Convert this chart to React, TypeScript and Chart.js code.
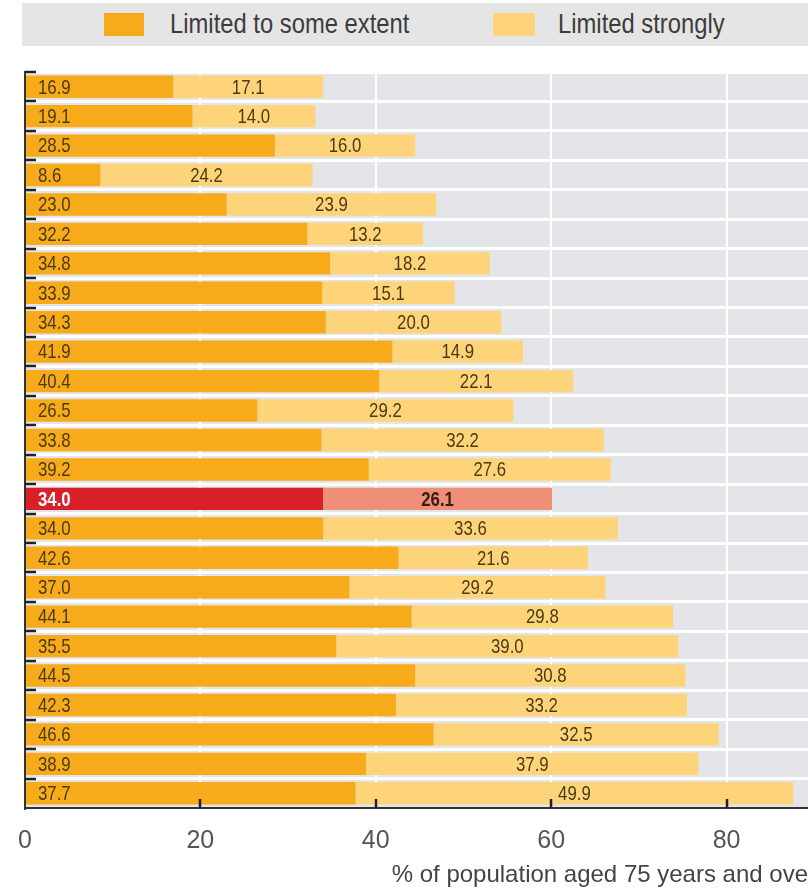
import React, { useEffect, useRef } from 'react';
import { Chart, registerables } from 'chart.js';

Chart.register(...registerables);

// ---- data ----
const categories = ['1', '2', '3', '4', '5', '6', '7', '8', '9', '10', '11', '12', '13', '14', '15', '16', '17', '18', '19', '20', '21', '22', '23', '24', '25'];
const limitedSomeExtent = [16.9, 19.1, 28.5, 8.6, 23.0, 32.2, 34.8, 33.9, 34.3, 41.9, 40.4, 26.5, 33.8, 39.2, 34.0, 34.0, 42.6, 37.0, 44.1, 35.5, 44.5, 42.3, 46.6, 38.9, 37.7];
const limitedStrongly = [17.1, 14.0, 16.0, 24.2, 23.9, 13.2, 18.2, 15.1, 20.0, 14.9, 22.1, 29.2, 32.2, 27.6, 26.1, 33.6, 21.6, 29.2, 29.8, 39.0, 30.8, 33.2, 32.5, 37.9, 49.9];
const seriesNames = ['Limited to some extent', 'Limited strongly'];
const highlightIndex = 14;
const xTickValues = [0, 20, 40, 60, 80];
const xMin = 0;
const xMax = 90.2;
const axisTitle = '% of population aged 75 years and over';

// ---- styles ----
const ORANGE = '#f7aa1a';
const LIGHT = '#fdd47a';
const RED = '#d91f27';
const SALMON = '#f08f78';
const PLOT_BG = '#e3e5e8';
const REGULAR = "'Liberation Sans', Arial, sans-serif";
const LABEL_SQUEEZE = 0.8;

const plotBg = {
  id: 'plotBg',
  beforeDraw(chart: any) {
    const { ctx, chartArea } = chart;
    ctx.save();
    ctx.fillStyle = PLOT_BG;
    ctx.fillRect(chartArea.left, chartArea.top, chartArea.right - chartArea.left, chartArea.bottom - chartArea.top);
    ctx.restore();
  },
};

const innerTicks = {
  id: 'innerTicks',
  afterDraw(chart: any) {
    const { ctx, chartArea } = chart;
    const ys = chart.scales.y;
    const xs = chart.scales.x;
    const n = categories.length;
    const rowH = (chartArea.bottom - chartArea.top) / n;
    ctx.save();
    ctx.strokeStyle = '#222';
    ctx.lineWidth = 2.5;
    for (let i = 0; i < n; i++) {
      const y = Math.round(ys.getPixelForValue(i) - rowH / 2);
      ctx.beginPath();
      ctx.moveTo(chartArea.left, y);
      ctx.lineTo(chartArea.left + 11, y);
      ctx.stroke();
    }
    for (const v of xTickValues) {
      if (v === 0) continue;
      const x = Math.round(xs.getPixelForValue(v));
      ctx.beginPath();
      ctx.moveTo(x, chartArea.bottom);
      ctx.lineTo(x, chartArea.bottom - 9);
      ctx.stroke();
    }
    ctx.restore();
  },
};

const valueLabels = {
  id: 'valueLabels',
  afterDatasetsDraw(chart: any) {
    const { ctx } = chart;
    chart.data.datasets.forEach((ds: any, di: number) => {
      const meta = chart.getDatasetMeta(di);
      meta.data.forEach((el: any, i: number) => {
        const hl = i === highlightIndex;
        const txt = Number(ds.data[i]).toFixed(1);
        ctx.save();
        ctx.textBaseline = 'middle';
        ctx.font = `${hl ? 'bold ' : ''}21px ${REGULAR}`;
        let x: number;
        if (di === 0) {
          ctx.textAlign = 'left';
          ctx.fillStyle = hl ? '#ffffff' : '#4a3a12';
          x = el.base + 12;
        } else {
          ctx.textAlign = 'center';
          ctx.fillStyle = hl ? '#3a1a10' : '#4a3a12';
          x = (el.x + el.base) / 2;
        }
        ctx.translate(x, el.y + 1);
        ctx.scale(LABEL_SQUEEZE, 1);
        ctx.fillText(txt, 0, 0);
        ctx.restore();
      });
    });
  },
};

export default function App() {
  const canvasRef = useRef<HTMLCanvasElement | null>(null);

  useEffect(() => {
    document.body.style.margin = '0';
    const canvas = canvasRef.current;
    if (!canvas) return;
    const chart = new Chart(canvas, {
      type: 'bar',
      data: {
        labels: categories,
        datasets: [
          {
            label: seriesNames[0],
            data: limitedSomeExtent,
            backgroundColor: limitedSomeExtent.map((_, i) => (i === highlightIndex ? RED : ORANGE)),
            borderWidth: 0,
            barPercentage: 0.76,
            categoryPercentage: 1,
          },
          {
            label: seriesNames[1],
            data: limitedStrongly,
            backgroundColor: limitedStrongly.map((_, i) => (i === highlightIndex ? SALMON : LIGHT)),
            borderWidth: 0,
            barPercentage: 0.76,
            categoryPercentage: 1,
          },
        ],
      },
      options: {
        indexAxis: 'y',
        animation: false,
        responsive: true,
        maintainAspectRatio: false,
        layout: { padding: { top: 72, left: 22, right: 0, bottom: 0 } },
        plugins: {
          legend: { display: false },
          tooltip: { enabled: false },
        },
        scales: {
          x: {
            type: 'linear',
            stacked: true,
            min: xMin,
            max: xMax,
            afterBuildTicks: (s: any) => {
              s.ticks = xTickValues.map((v) => ({ value: v }));
            },
            afterFit: (s: any) => {
              s.height = 85;
            },
            grid: { color: '#ffffff', lineWidth: 2, drawTicks: false },
            border: { display: true, color: '#333', width: 2, z: 1 },
            ticks: {
              padding: 18,
              color: '#555',
              font: { family: REGULAR, size: 25 },
              maxRotation: 0,
              autoSkip: false,
            },
            title: {
              display: true,
              text: axisTitle,
              align: 'end',
              color: '#444',
              font: { family: REGULAR, size: 24 },
              padding: { top: 0, bottom: 3 },
            },
          },
          y: {
            type: 'category',
            stacked: true,
            ticks: { display: false },
            afterFit: (s: any) => {
              s.width = 0;
            },
            grid: { color: '#ffffff', lineWidth: 3, offset: true, drawTicks: false },
            border: { display: true, color: '#333', width: 2, z: 1 },
          },
        },
      },
      plugins: [plotBg, innerTicks, valueLabels],
    } as any);
    return () => chart.destroy();
  }, []);

  const legendText: React.CSSProperties = {
    position: 'absolute',
    top: 6,
    fontFamily: REGULAR,
    fontSize: 28,
    lineHeight: '29px',
    color: '#3c3c3c',
    whiteSpace: 'nowrap',
    transform: 'scaleX(0.85)',
    transformOrigin: 'left center',
  };

  return (
    <div style={{ position: 'relative', width: 808, height: 893, overflow: 'hidden', background: '#fff' }}>
      <div style={{ position: 'absolute', left: 0, top: 0, width: 816, height: 893 }}>
        <canvas ref={canvasRef} />
      </div>
      <div style={{ position: 'absolute', left: 22, top: 3, width: 786, height: 43, background: '#e5e5e5' }}>
        <div style={{ position: 'absolute', left: 82, top: 10, width: 40, height: 23, background: ORANGE }} />
        <div style={{ ...legendText, left: 148 }}>{seriesNames[0]}</div>
        <div style={{ position: 'absolute', left: 471, top: 10, width: 42, height: 23, background: LIGHT }} />
        <div style={{ ...legendText, left: 536 }}>{seriesNames[1]}</div>
      </div>
    </div>
  );
}
